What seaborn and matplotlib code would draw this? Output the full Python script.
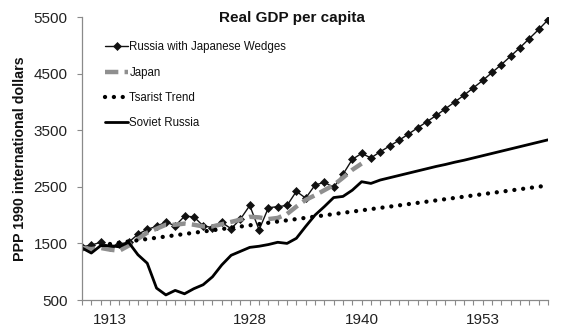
import matplotlib
matplotlib.use("Agg")
import matplotlib.pyplot as plt
import seaborn as sns
import numpy as np
import pandas as pd

# --- data -------------------------------------------------------------
years = list(range(1910, 1961))

wedges = [1440, 1470, 1520, 1440, 1490, 1520, 1660, 1750, 1800, 1880,
          1810, 1980, 1970, 1810, 1780, 1870, 1760, 1930, 2170, 1740,
          2130, 2150, 2170, 2420, 2300, 2530, 2580, 2490, 2720, 2985,
          3090, 3010, 3120, 3220, 3320, 3430, 3540, 3650, 3760, 3880,
          4000, 4120, 4250, 4380, 4520, 4660, 4810, 4960, 5120, 5280,
          5450]

japan_years = list(range(1910, 1941))
japan = [1420, 1400, 1420, 1390, 1370, 1460, 1580, 1690, 1760, 1830,
         1830, 1850, 1830, 1800, 1800, 1840, 1880, 1920, 1970, 1960,
         1930, 1950, 2020, 2150, 2270, 2350, 2440, 2530, 2660, 2800,
         2910]

trend_years = list(range(1913, 1961))
tsarist = [1490, 1512, 1534, 1556, 1578, 1600, 1622, 1644, 1666, 1688,
           1710, 1732, 1754, 1776, 1798, 1820, 1842, 1864, 1886, 1908,
           1930, 1952, 1974, 1996, 2018, 2040, 2062, 2084, 2106, 2128,
           2150, 2172, 2194, 2216, 2238, 2260, 2282, 2304, 2326, 2348,
           2370, 2392, 2414, 2436, 2458, 2480, 2502, 2524]

soviet = [1420, 1330, 1460, 1460, 1440, 1520, 1300, 1150, 710, 590,
          670, 610, 700, 770, 910, 1120, 1290, 1360, 1430, 1450,
          1480, 1520, 1500, 1590, 1800, 2000, 2150, 2310, 2330, 2440,
          2590, 2560, 2620, 2660, 2700, 2740, 2780, 2820, 2860, 2895,
          2935, 2970, 3010, 3050, 3090, 3130, 3170, 3210, 3250, 3290,
          3330]

labels = ["Russia with Japanese Wedges", "Japan", "Tsarist Trend", "Soviet Russia"]
year_labels = [1913, 1928, 1940, 1953]
y_ticks = [500, 1500, 2500, 3500, 4500, 5500]

# --- styling ----------------------------------------------------------
sns.set_theme(style="white")
plt.rcParams["font.family"] = ["Liberation Sans", "DejaVu Sans"]

fig = plt.figure(figsize=(5.79, 3.36), dpi=100)
ax = fig.add_axes([0.1416, 0.1071, 0.8049, 0.8423])

sns.lineplot(x=years, y=wedges, ax=ax, color="#111111", linewidth=1.0,
             marker="D", markersize=4.4, markeredgecolor="#111111",
             markerfacecolor="#111111", markeredgewidth=0.5,
             label=labels[0])
sns.lineplot(x=japan_years, y=japan, ax=ax, color="#8f8f8f", linewidth=3.2,
             linestyle=(0, (3.0, 1.4)), label=labels[1])
sns.lineplot(x=trend_years, y=tsarist, ax=ax, color="#000000", linewidth=3.1,
             linestyle=(0, (0.01, 2.05)), dash_capstyle="round",
             label=labels[2])
sns.lineplot(x=years, y=soviet, ax=ax, color="#000000", linewidth=2.0,
             label=labels[3])

ax.set_xlim(1910, 1960)
ax.set_ylim(500, 5500)
ax.set_xticks(years, minor=True)
ax.set_xticks(year_labels)
ax.set_xticklabels([str(y) for y in year_labels])
ax.set_yticks(y_ticks)
ax.set_yticklabels([str(v) for v in y_ticks])

for side in ("top", "right"):
    ax.spines[side].set_visible(False)
for side in ("left", "bottom"):
    ax.spines[side].set_color("#8a8a8a")
    ax.spines[side].set_linewidth(0.9)

ax.tick_params(axis="both", which="both", direction="out", length=3.5,
               width=0.8, color="#8a8a8a", labelsize=11, labelcolor="#222222")
ax.tick_params(axis="x", which="both", bottom=True, pad=6)
ax.tick_params(axis="y", left=True, pad=7)

ax.set_xlabel("")
ax.set_ylabel("PPP 1990 international dollars", fontsize=10.3,
              fontweight="bold", color="#111111", labelpad=6)
ax.yaxis.set_label_coords(-0.118, 0.5)

fig.text(0.505, 0.947, "Real GDP per capita", ha="center", va="center",
         fontsize=11, fontweight="bold", color="#111111")

leg = ax.legend(loc="upper left", bbox_to_anchor=(0.04, 0.93), frameon=False,
                fontsize=8.3, handlelength=2.0, handletextpad=0.1,
                labelspacing=1.15, borderaxespad=0, numpoints=1)
for t in leg.get_texts():
    t.set_color("#111111")

fig.savefig("out.png", dpi=100)
